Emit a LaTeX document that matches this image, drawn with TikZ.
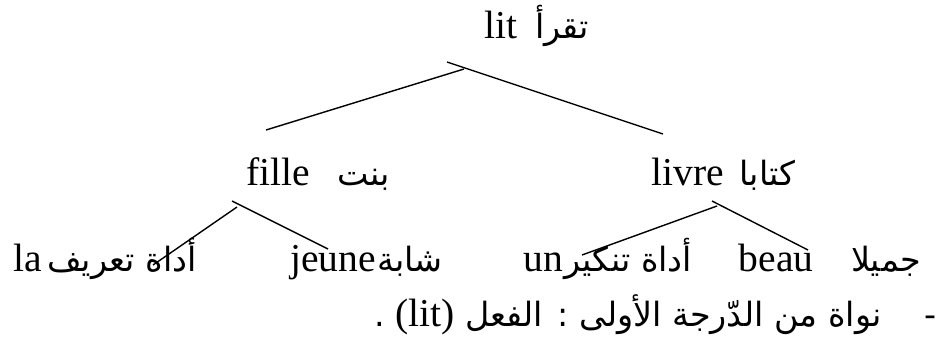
\documentclass[tikz,border=0pt]{standalone}
\usepackage{fontspec}
\setmainfont{Liberation Serif}
\newfontfamily\arabicfont[Script=Arabic]{DejaVu Sans}
\TeXXeTstate=1
\usepackage{tikz}

\begin{document}
\begin{tikzpicture}[line width=0.8pt,
            word/.style = {inner sep=0pt, anchor=base,
                        font=\fontsize{22.5}{27}\selectfont},
            arab/.style = {inner sep=0pt, anchor=base,
                        font=\fontsize{19}{24}\selectfont\arabicfont}]
            \useasboundingbox (0,0) rectangle (18.8,-6.98);
            % Root
            \node[word] (lit) at (10.02,-0.76) {lit};
            \node[arab] (litAr) at (11.24,-0.76) {\beginR تقرأ\endR};
            % Second level
            \node[word] (fille) at (5.57,-3.70) {fille};
            \node[arab] (bint) at (7.27,-3.70) {\beginR بنت\endR};
            \node[word] (livre) at (13.75,-3.70) {livre};
            \node[arab] (kitab) at (15.35,-3.70) {\beginR كتابا\endR};
            % Third level
            \node[word] (la) at (0.56,-5.42) {la};
            \node[arab] (tarif) at (2.44,-5.42) {\beginR أداة تعريف\endR};
            \node[word] (jeune) at (6.66,-5.42) {jeune};
            \node[arab,anchor=base west] (shaba) at (jeune.base east) {\beginR شابة\endR};
            \node[word] (un) at (10.86,-5.42) {un};
            \node[arab,anchor=base west] (tankir) at (un.base east) {\beginR أداة تنكير\endR};
            \node[word] (beau) at (15.52,-5.42) {beau};
            \node[arab] (jamil) at (17.72,-5.42) {\beginR جميلا\endR};
            % Caption line
            \node[arab,anchor=base east] (nucleus) at (18.74,-6.52)
                {\beginR -\ \ \ \ نواة من الدّرجة الأولى : الفعل
                 {\fontsize{22.5}{27}\selectfont\rmfamily\beginL(lit)\endL} .\endR};
            % Branch points
            \coordinate (rootA) at (8.94,-1.24);
            \coordinate (rootJ) at (9.28,-1.38);
            \coordinate (rootL) at (5.32,-2.60);
            \coordinate (rootR) at (13.26,-2.68);
            \coordinate (filleA) at (4.64,-4.02);
            \coordinate (filleJ) at (4.74,-4.14);
            \coordinate (filleL) at (3.06,-5.30);
            \coordinate (filleR) at (6.56,-4.98);
            \coordinate (livreA) at (14.24,-4.02);
            \coordinate (livreJ) at (14.34,-4.12);
            \coordinate (livreL) at (11.64,-5.10);
            \coordinate (livreR) at (16.16,-5.00);
            % Branches
            \draw (rootA) -- (rootR);
            \draw (rootJ) -- (rootL);
            \draw (filleA) -- (filleR);
            \draw (filleJ) -- (filleL);
            \draw (livreA) -- (livreR);
            \draw (livreJ) -- (livreL);
        \end{tikzpicture}
\end{document}
